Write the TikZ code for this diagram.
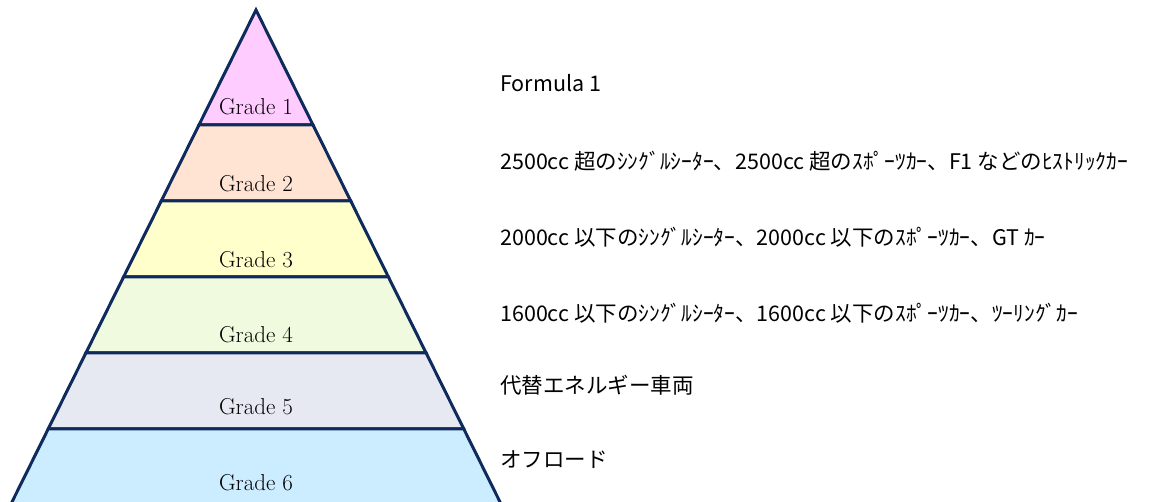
\documentclass[tikz,border=0pt]{standalone}
\usepackage{fontspec}
\newfontfamily\jp{Noto Sans CJK JP}
\definecolor{edge}{HTML}{0F2A5C}
\definecolor{c1}{HTML}{FFCCFF}
\definecolor{c2}{HTML}{FFE4D4}
\definecolor{c3}{HTML}{FFFFCC}
\definecolor{c4}{HTML}{F0FADE}
\definecolor{c5}{HTML}{E6E9F2}
\definecolor{c6}{HTML}{CCECFF}
\begin{document}
\begin{tikzpicture}[x=1pt,y=-1pt,
  band/.style={draw=edge,line width=3pt,line join=miter},
  glabel/.style={font=\fontsize{23}{27}\selectfont,inner sep=0pt,anchor=base},
  desc/.style={font=\jp\fontsize{21.5}{25}\selectfont,inner sep=0pt,anchor=west}]
\useasboundingbox (0,0) rectangle (1160,502);
\clip (0,0) rectangle (1160,502);
\fill[white] (0,0) rectangle (1160,502);
\filldraw[band,fill=c1] (256,10) -- (313.04,125) -- (198.96,125) -- cycle;
\filldraw[band,fill=c2] (198.96,125) -- (313.04,125) -- (350.74,201) -- (161.26,201) -- cycle;
\filldraw[band,fill=c3] (161.26,201) -- (350.74,201) -- (388.43,277) -- (123.57,277) -- cycle;
\filldraw[band,fill=c4] (123.57,277) -- (388.43,277) -- (426.13,353) -- (85.87,353) -- cycle;
\filldraw[band,fill=c5] (85.87,353) -- (426.13,353) -- (463.82,429) -- (48.18,429) -- cycle;
\filldraw[band,fill=c6] (48.18,429) -- (463.82,429) -- (501.52,505) -- (10.48,505) -- cycle;
\node[glabel] (g1) at (256,115) {Grade 1};
\node[glabel] (g2) at (256,192) {Grade 2};
\node[glabel] (g3) at (256,268) {Grade 3};
\node[glabel] (g4) at (256,343) {Grade 4};
\node[glabel] (g5) at (256,415) {Grade 5};
\node[glabel] (g6) at (256,491) {Grade 6};
\node[desc] (d1) at (500,83) {Formula 1};
\node[desc] (d2) at (500,161) {2500cc 超のｼﾝｸﾞﾙｼｰﾀｰ、2500cc 超のｽﾎﾟｰﾂｶｰ、F1 などのﾋｽﾄﾘｯｸｶｰ};
\node[desc] (d3) at (500,237) {2000cc 以下のｼﾝｸﾞﾙｼｰﾀｰ、2000cc 以下のｽﾎﾟｰﾂｶｰ、GT ｶｰ};
\node[desc] (d4) at (500,313) {1600cc 以下のｼﾝｸﾞﾙｼｰﾀｰ、1600cc 以下のｽﾎﾟｰﾂｶｰ、ﾂｰﾘﾝｸﾞｶｰ};
\node[desc] (d5) at (500,385) {代替エネルギー車両};
\node[desc] (d6) at (500,460) {オフロード};
\end{tikzpicture}
\end{document}
